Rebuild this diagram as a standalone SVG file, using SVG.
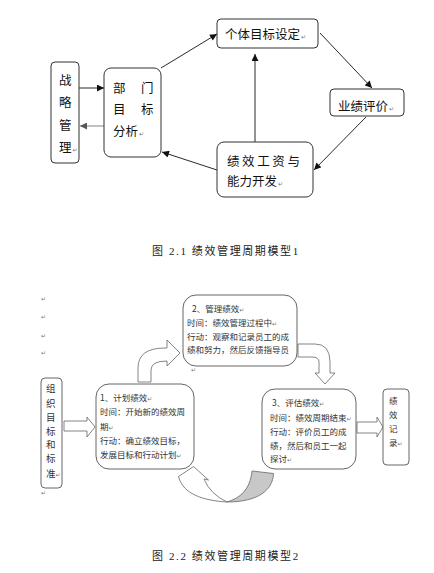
<svg xmlns="http://www.w3.org/2000/svg" width="434" height="573" viewBox="0 0 434 573">
<style>
.t1{font-family:"Noto Sans CJK SC","Noto Sans CJK JP",sans-serif;font-size:12.5px;fill:#111}
.t2{font-family:"Noto Sans CJK SC","Noto Sans CJK JP",sans-serif;font-size:8.5px;fill:#333}
.t3{font-family:"Noto Sans CJK SC","Noto Sans CJK JP",sans-serif;font-size:9.5px;fill:#333}
.cap{font-family:"Liberation Serif","Noto Sans CJK SC",serif;font-size:11px;fill:#222;letter-spacing:1.6px}
.rt{font-family:"DejaVu Sans",sans-serif;font-size:6px;fill:#777}
.b1{fill:#fff;stroke:#333;stroke-width:1}
.b2{fill:#fff;stroke:#555;stroke-width:0.9}
.ln{stroke:#111;stroke-width:0.9;fill:none}
.blk{fill:#fff;stroke:#666;stroke-width:0.8}
</style>
<defs>
<marker id="ah" viewBox="0 0 10 10" refX="10" refY="5" markerWidth="8" markerHeight="7" markerUnits="userSpaceOnUse" orient="auto">
<path d="M0,0 L10,5 L0,10 Z" fill="#111"/>
</marker>
<marker id="ahg" viewBox="0 0 10 10" refX="10" refY="5" markerWidth="8" markerHeight="7" markerUnits="userSpaceOnUse" orient="auto">
<path d="M0,0 L10,5 L0,10 Z" fill="#555"/>
</marker>
</defs>

<g id="connectors">
<line class="ln" x1="79" y1="88" x2="104" y2="88" marker-end="url(#ah)"/>
<line x1="104" y1="126" x2="80" y2="126" stroke="#777" stroke-width="0.9" marker-end="url(#ahg)"/>
<line class="ln" x1="161" y1="68" x2="217" y2="34" marker-end="url(#ah)"/>
<line class="ln" x1="320" y1="33" x2="372" y2="88" marker-end="url(#ah)"/>
<line class="ln" x1="366" y1="117" x2="314" y2="170" marker-end="url(#ah)"/>
<line class="ln" x1="255" y1="142" x2="255" y2="54" marker-end="url(#ah)"/>
<line class="ln" x1="217" y1="170" x2="162" y2="152" marker-end="url(#ah)"/>

<polygon class="blk" points="64,421 87,421 87,417 95,427 87,437 87,431 64,431"/>
<polygon class="blk" points="357,422 377,422 377,417 383,427 377,437 377,433 357,433"/>
<path class="blk" d="M138,382 L138,368 Q138,348 165,348 L167,348 L167,340 L180,353 L167,366 L167,361 Q151,361 151,370 L151,382 Z"/>
<path class="blk" d="M298,344 L315,344 Q330,344 330,362 L330,373 L335,373 L325,384 L315,373 L319,373 L319,362 Q319,357 312,357 L298,357 Z"/>
<path class="blk" d="M193.5,466.5 L178.5,476.5 C182,490 195,500 227,502 Q210,494 204,479 L208.5,480 Z"/>
<path d="M252,471 L273.5,473.5 C273,490 258,502 227,502 C240,498 250,490 252,471 Z" fill="#c8c8c8" stroke="#666" stroke-width="0.8"/>
</g>

<g id="n-zhanlue">
<rect class="b1" x="51" y="62" width="28" height="101" rx="4"/>
<text class="t1" x="59" y="84.5">战</text>
<text class="t1" x="59" y="106.5">略</text>
<text class="t1" x="59" y="129.5">管</text>
<text class="t1" x="59" y="151.5">理<tspan class="rt" dx="1">↵</tspan></text>
</g>

<g id="n-bumen">
<rect class="b1" x="104" y="68" width="57" height="89" rx="7"/>
<text class="t1" x="113" y="92.5">部</text>
<text class="t1" x="141" y="92.5">门</text>
<text class="t1" x="113" y="113.5">目</text>
<text class="t1" x="141" y="113.5">标</text>
<text class="t1" x="113" y="135.5">分析<tspan class="rt" dx="1">↵</tspan></text>
</g>

<g id="n-geti">
<rect class="b1" x="217" y="19" width="101" height="29" rx="4"/>
<text class="t1" x="225" y="38.5">个体目标设定<tspan class="rt" dx="1">↵</tspan></text>
</g>

<g id="n-yeji">
<rect class="b1" x="330" y="89" width="74" height="27" rx="4"/>
<text class="t1" x="338" y="110.5">业绩评价<tspan class="rt" dx="1">↵</tspan></text>
</g>

<g id="n-jixiao">
<rect class="b1" x="217" y="142" width="96" height="55" rx="7"/>
<text class="t1" x="227" y="165.5" letter-spacing="2.6">绩效工资与</text>
<text class="t1" x="227" y="185.5">能力开发<tspan class="rt" dx="1">↵</tspan></text>
</g>

<text class="cap" x="152" y="255">图 2.1 绩效管理周期模型1</text>

<g id="marks">
<text class="rt" x="41" y="301">↵</text>
<text class="rt" x="41" y="319">↵</text>
<text class="rt" x="41" y="338">↵</text>
<text class="rt" x="41" y="355">↵</text>
<text class="rt" x="41" y="495">↵</text>
<text class="rt" x="191" y="372">↵</text>
</g>

<g id="n-zuzhi">
<rect class="b2" x="41" y="378" width="21" height="110" rx="4"/>
<text class="t3" x="46" y="391.5">组</text>
<text class="t3" x="46" y="406.5">织</text>
<text class="t3" x="46" y="420.5">目</text>
<text class="t3" x="46" y="434.5">标</text>
<text class="t3" x="46" y="447.5">和</text>
<text class="t3" x="46" y="461.5">标</text>
<text class="t3" x="46" y="476.5">准<tspan class="rt">↵</tspan></text>
</g>

<g id="n-plan">
<rect class="b2" x="96" y="384" width="98" height="85" rx="13"/>
<text class="t2" x="100" y="401">1、计划绩效<tspan class="rt">↵</tspan></text>
<text class="t2" x="100" y="415">时间：开始新的绩效周</text>
<text class="t2" x="100" y="430">期<tspan class="rt">↵</tspan></text>
<text class="t2" x="100" y="444">行动：确立绩效目标，</text>
<text class="t2" x="100" y="458">发展目标和行动计划<tspan class="rt">↵</tspan></text>
</g>

<g id="n-manage">
<rect class="b2" x="183" y="295" width="114" height="71" rx="13"/>
<text class="t2" x="192" y="312">2、管理绩效<tspan class="rt">↵</tspan></text>
<text class="t2" x="187" y="326">时间：绩效管理过程中<tspan class="rt">↵</tspan></text>
<text class="t2" x="187" y="340">行动：观察和记录员工的成</text>
<text class="t2" x="187" y="353">绩和努力，然后反馈指导员</text>
</g>

<g id="n-eval">
<rect class="b2" x="262" y="389" width="94" height="80" rx="13"/>
<text class="t2" x="272" y="406">3、评估绩效<tspan class="rt">↵</tspan></text>
<text class="t2" x="270" y="421">时间：绩效周期结束<tspan class="rt">↵</tspan></text>
<text class="t2" x="270" y="435">行动：评价员工的成</text>
<text class="t2" x="270" y="449">绩，然后和员工一起</text>
<text class="t2" x="270" y="462">探讨<tspan class="rt">↵</tspan></text>
</g>

<g id="n-record">
<rect class="b2" x="383" y="389" width="26" height="76" rx="4"/>
<text class="t2" x="389" y="404">绩</text>
<text class="t2" x="389" y="418">效</text>
<text class="t2" x="389" y="432">记</text>
<text class="t2" x="389" y="446">录<tspan class="rt">↵</tspan></text>
</g>

<text class="cap" x="152" y="560">图 2.2 绩效管理周期模型2</text>
</svg>
